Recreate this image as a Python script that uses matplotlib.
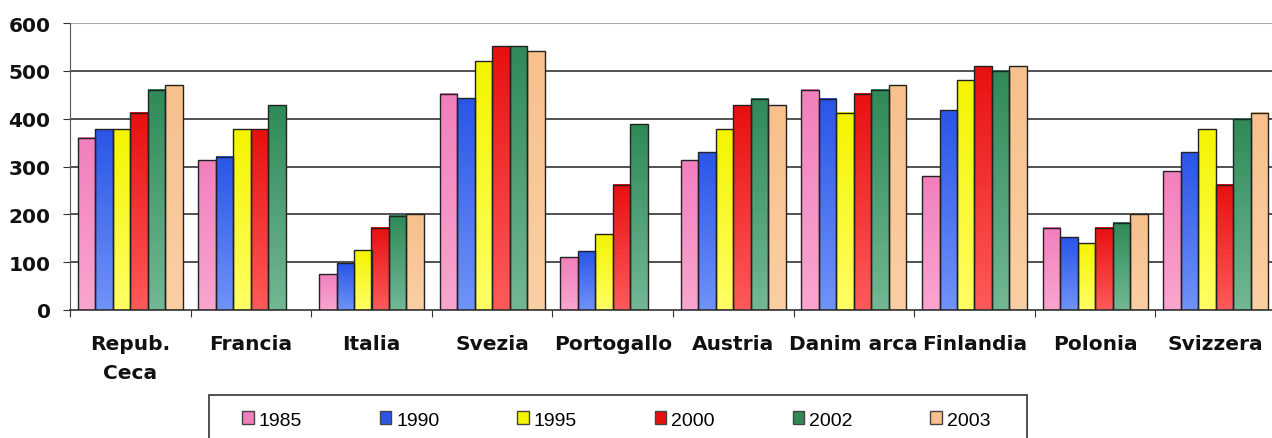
import matplotlib.pyplot as plt
import numpy as np
from matplotlib.colors import LinearSegmentedColormap
from matplotlib.patches import Rectangle

# bar chart by country, six years per group
paesi = ["Repub.\nCeca", "Francia", "Italia", "Svezia", "Portogallo",
         "Austria", "Danim arca", "Finlandia", "Polonia", "Svizzera"]
anni = ["1985", "1990", "1995", "2000", "2002", "2003"]

v1985 = [360, 313, 75, 452, 110, 313, 460, 280, 172, 290]
v1990 = [378, 320, 98, 443, 123, 330, 442, 418, 152, 330]
v1995 = [378, 378, 125, 520, 158, 378, 412, 480, 140, 378]
v2000 = [412, 378, 172, 551, 262, 428, 452, 510, 172, 262]
v2002 = [460, 428, 197, 551, 388, 442, 460, 500, 182, 400]
v2003 = [470, np.nan, 200, 541, np.nan, 428, 470, 510, 200, 412]
serie = [v1985, v1990, v1995, v2000, v2002, v2003]

# top colour, bottom colour of each bar gradient
colori = [("#f27fbd", "#f9a6cf"),
          ("#2a55e8", "#6f93f8"),
          ("#f4f400", "#ffff66"),
          ("#e81010", "#ff5a5a"),
          ("#2f8a58", "#72b894"),
          ("#f7c08c", "#fbcfa4")]

plt.rcParams["font.family"] = ["Liberation Sans", "DejaVu Sans"]

fig = plt.figure(figsize=(12.72, 4.39), dpi=100)
ax = fig.add_axes([70 / 1272, 1 - 311 / 439, 1206 / 1272, (311 - 24) / 439])

x = np.arange(len(paesi)) + 0.5
w = 0.145
for i, (vals, anno) in enumerate(zip(serie, anni)):
    top, bot = colori[i]
    bars = ax.bar(x + (i - 2.5) * w, vals, w, color=top, edgecolor="#222222",
                  linewidth=1.0, label=anno, zorder=3)
    cmap = LinearSegmentedColormap.from_list("g%d" % i, [bot, top])
    grad = np.linspace(0, 1, 100).reshape(-1, 1)
    for b in bars:
        h = b.get_height()
        if np.isnan(h) or h == 0:
            continue
        bx, by = b.get_x(), b.get_y()
        ax.imshow(grad, cmap=cmap, origin="lower", aspect="auto",
                  extent=(bx, bx + b.get_width(), by, by + h), zorder=2.5)
        b.set_facecolor("none")

ax.set_xlim(0, len(paesi))
ax.set_ylim(0, 600)
ax.set_yticks(range(0, 601, 100))
ax.set_yticklabels([str(t) for t in range(0, 601, 100)], fontsize=14.5,
                   fontweight="bold", family="DejaVu Sans", color="#111111")
ax.set_xticks(np.arange(len(paesi) + 1))
ax.set_xticklabels([])
ax.set_xticks(x, minor=True)
ax.set_xticklabels(paesi, minor=True, fontsize=14.5, fontweight="bold",
                   family="DejaVu Sans", color="#111111", linespacing=1.7)
ax.tick_params(axis="x", which="minor", length=0, pad=17)
ax.tick_params(axis="x", which="major", length=5, direction="out", color="#333333")
ax.tick_params(axis="y", length=5, direction="out", color="#333333", pad=9)

for t in range(100, 501, 100):
    ax.axhline(t, color="#333333", linewidth=1.2, zorder=1)
ax.axhline(600, color="#aaaaaa", linewidth=1.5, zorder=1)

for s in ["top", "right"]:
    ax.spines[s].set_visible(False)
ax.spines["left"].set_color("#555555")
ax.spines["bottom"].set_color("#333333")
ax.spines["bottom"].set_linewidth(1.2)

# legend frame runs off the bottom edge of the picture
fig.patches.append(Rectangle((209 / 1272, -0.05), (1027 - 209) / 1272,
                             0.05 + 1 - 396 / 439, transform=fig.transFigure,
                             facecolor="none", edgecolor="#333333", linewidth=1.2))
leg = ax.legend(loc="center left", bbox_to_anchor=(242 / 1272, 1 - 421 / 439),
                bbox_transform=fig.transFigure, ncol=6, frameon=False,
                fontsize=14, handlelength=0.6, handleheight=0.6,
                columnspacing=4.0, handletextpad=0.25, borderpad=0,
                borderaxespad=0)
for h, (top, bot) in zip(leg.legend_handles, colori):
    h.set_facecolor(top)
    h.set_edgecolor("#444444")

fig.savefig("out.png", dpi=100)
